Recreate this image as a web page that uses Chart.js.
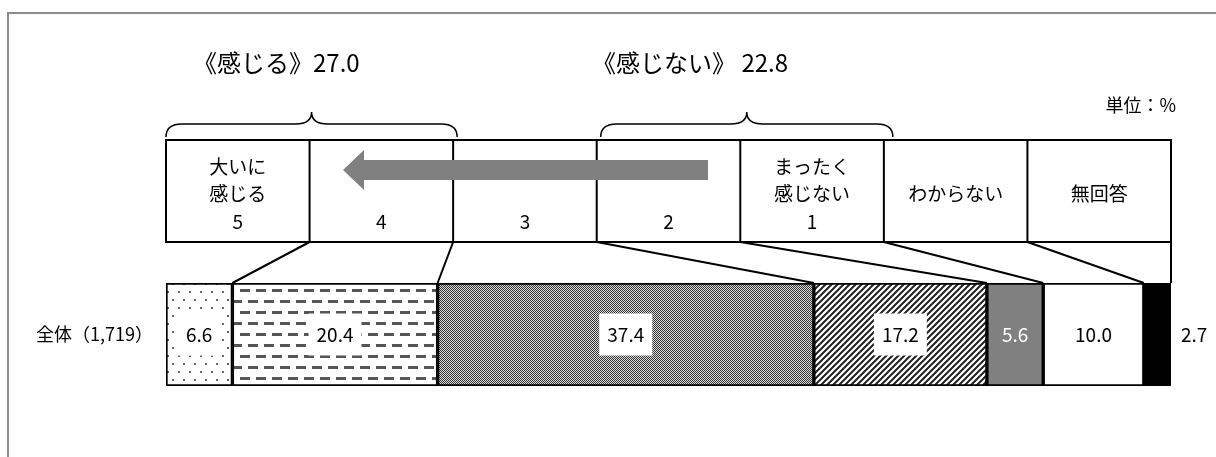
<!DOCTYPE html>
<html>
<head>
<meta charset="utf-8">
<script src="https://cdn.jsdelivr.net/npm/chart.js@4.4.1/dist/chart.umd.min.js"></script>
<style>
  html, body { margin: 0; background: #fff; }
  #wrap { width: 1216px; height: 457px; position: relative; }
</style>
</head>
<body>
<div id="wrap"><canvas id="chart"></canvas></div>
<script>
// data
const categories = ['全体（1,719）'];
const seriesNames = ['5', '4', '3', '2', '1', 'わからない', '無回答'];
const values = [6.6, 20.4, 37.4, 17.2, 5.6, 10.0, 2.7];
const headerLabels = [
  ['大いに', '感じる', '5'],
  ['', '', '4'],
  ['', '', '3'],
  ['', '', '2'],
  ['まったく', '感じない', '1'],
  ['わからない'],
  ['無回答']
];
const groupNames = ['感じる', '感じない'];
const unitLabel = '単位：%';

const FONT = '"Noto Sans CJK JP", "Noto Sans", sans-serif';

// fill patterns for the segments
function makePattern(w, h, draw) {
  const c = document.createElement('canvas');
  c.width = w; c.height = h;
  const g = c.getContext('2d');
  draw(g);
  return g.createPattern(c, 'repeat');
}
const dots = makePattern(11, 16, g => {
  g.fillStyle = '#fff'; g.fillRect(0, 0, 11, 16);
  g.fillStyle = '#666';
  g.fillRect(2, 3, 2, 2);
  g.fillRect(7, 11, 2, 2);
});
const dashes = makePattern(16, 22, g => {
  g.fillStyle = '#fff'; g.fillRect(0, 0, 16, 22);
  g.fillStyle = '#555';
  g.fillRect(0, 3, 10, 3);
  g.fillRect(8, 14, 8, 3);
  g.fillRect(0, 14, 2, 3);
});
const checker = makePattern(2, 2, g => {
  g.fillStyle = '#ddd'; g.fillRect(0, 0, 2, 2);
  g.fillStyle = '#333';
  g.fillRect(0, 0, 1, 1);
  g.fillRect(1, 1, 1, 1);
});
const stripes = makePattern(6, 6, g => {
  g.fillStyle = '#fff'; g.fillRect(0, 0, 6, 6);
  g.strokeStyle = '#222'; g.lineWidth = 2;
  g.beginPath();
  g.moveTo(-1, 7); g.lineTo(7, -1);
  g.moveTo(-4, 4); g.lineTo(4, -4);
  g.moveTo(2, 10); g.lineTo(10, 2);
  g.stroke();
});

const fills = [dots, dashes, checker, stripes, '#808080', '#ffffff', '#000000'];
const labelColors = ['#000', '#000', '#000', '#000', '#fff', '#000', '#000'];
const labelBoxed = [true, true, true, true, false, false, false];

const total = values.reduce((a, b) => a + b, 0);

// value labels on the segments
const labelPlugin = {
  id: 'segLabels',
  afterDatasetsDraw(chart) {
    const ctx = chart.ctx;
    ctx.save();
    ctx.font = '19px ' + FONT;
    ctx.textBaseline = 'middle';
    chart.data.datasets.forEach((ds, i) => {
      const bar = chart.getDatasetMeta(i).data[0];
      const txt = ds.data[0].toFixed(1);
      if (i === chart.data.datasets.length - 1) {
        ctx.textAlign = 'left';
        ctx.fillStyle = '#000';
        ctx.fillText(txt, bar.x + 10, bar.y);
        return;
      }
      const cx = (bar.x + bar.base) / 2;
      const tw = ctx.measureText(txt).width;
      if (labelBoxed[i]) {
        ctx.fillStyle = '#fff';
        ctx.fillRect(cx - tw / 2 - 8, bar.y - 21, tw + 16, 42);
      }
      ctx.textAlign = 'center';
      ctx.fillStyle = labelColors[i];
      ctx.fillText(txt, cx, bar.y);
    });
    ctx.restore();
  }
};

function brace(ctx, x1, x2, yEnd, yMid, yTop) {
  const mx = (x1 + x2) / 2, r = 16;
  ctx.beginPath();
  ctx.moveTo(x1, yEnd);
  ctx.quadraticCurveTo(x1, yMid, x1 + r, yMid);
  ctx.lineTo(mx - r, yMid);
  ctx.quadraticCurveTo(mx, yMid, mx, yTop);
  ctx.quadraticCurveTo(mx, yMid, mx + r, yMid);
  ctx.lineTo(x2 - r, yMid);
  ctx.quadraticCurveTo(x2, yMid, x2, yEnd);
  ctx.stroke();
}

// header scale, braces, arrow, leader lines, frame
const decorPlugin = {
  id: 'decor',
  afterDraw(chart) {
    const ctx = chart.ctx;
    const area = chart.chartArea;
    const xs = chart.scales.x;
    const left = area.left, right = area.right;
    const w = (right - left) / headerLabels.length;
    const hTop = 140, hBot = 242;
    ctx.save();

    // outer frame
    ctx.strokeStyle = '#8c8c8c';
    ctx.lineWidth = 2;
    ctx.beginPath();
    ctx.moveTo(8, 457); ctx.lineTo(8, 13); ctx.lineTo(1216, 13);
    ctx.stroke();

    // group titles
    const pos = values[0] + values[1];
    const neg = values[3] + values[4];
    ctx.fillStyle = '#000';
    ctx.textBaseline = 'middle';
    ctx.textAlign = 'left';
    ctx.font = '24px ' + FONT;
    ctx.fillText('《' + groupNames[0] + '》' + pos.toFixed(1), 193, 63);
    ctx.fillText('《' + groupNames[1] + '》 ' + neg.toFixed(1), 592, 63);

    ctx.font = '18px ' + FONT;
    ctx.textAlign = 'right';
    ctx.fillText(unitLabel, 1176, 105);

    // braces
    ctx.strokeStyle = '#000';
    ctx.lineWidth = 1.5;
    brace(ctx, left, left + 2 * w + 4, 137, 124, 112);
    brace(ctx, left + 3 * w + 4, left + 5 * w + 9, 137, 124, 112);

    // header boxes
    ctx.lineWidth = 2;
    ctx.strokeRect(left, hTop, right - left, hBot - hTop);
    ctx.beginPath();
    for (let i = 1; i < headerLabels.length; i++) {
      ctx.moveTo(left + i * w, hTop);
      ctx.lineTo(left + i * w, hBot);
    }
    ctx.stroke();

    ctx.font = '19px ' + FONT;
    ctx.textAlign = 'center';
    headerLabels.forEach((lines, i) => {
      const cx = left + (i + 0.5) * w;
      if (lines.length === 1) {
        ctx.fillText(lines[0], cx, 194);
      } else {
        ctx.fillText(lines[0], cx, 167);
        ctx.fillText(lines[1], cx, 194);
        ctx.fillText(lines[2], cx, 222);
      }
    });

    // arrow (from 'not felt' toward 'felt')
    ctx.fillStyle = '#808080';
    ctx.beginPath();
    ctx.moveTo(708, 160);
    ctx.lineTo(364, 160);
    ctx.lineTo(364, 150);
    ctx.lineTo(343, 170);
    ctx.lineTo(364, 190);
    ctx.lineTo(364, 180);
    ctx.lineTo(708, 180);
    ctx.closePath();
    ctx.fill();

    // leader lines from header to segment boundaries
    ctx.strokeStyle = '#000';
    ctx.lineWidth = 2;
    ctx.beginPath();
    let cum = 0;
    for (let i = 0; i < values.length; i++) {
      cum += values[i];
      ctx.moveTo(left + (i + 1) * w, hBot);
      ctx.lineTo(xs.getPixelForValue(cum), area.top);
    }
    ctx.stroke();
    ctx.restore();
  }
};

new Chart(document.getElementById('chart'), {
  type: 'bar',
  data: {
    labels: categories,
    datasets: seriesNames.map((name, i) => ({
      label: name,
      data: [values[i]],
      backgroundColor: fills[i],
      borderColor: '#000',
      borderWidth: 2,
      borderSkipped: false,
      barPercentage: 1,
      categoryPercentage: 1
    }))
  },
  options: {
    indexAxis: 'y',
    responsive: true,
    maintainAspectRatio: false,
    animation: false,
    layout: { padding: { top: 283, bottom: 71, left: 0, right: 45 } },
    scales: {
      x: { stacked: true, min: 0, max: total, display: false },
      y: {
        stacked: true,
        grid: { display: false, drawTicks: false },
        border: { display: false },
        ticks: { color: '#000', padding: 13, font: { size: 18, family: FONT } },
        afterFit(scale) { scale.width = 166; }
      }
    },
    plugins: {
      legend: { display: false },
      tooltip: { enabled: false }
    }
  },
  plugins: [labelPlugin, decorPlugin]
});
</script>
</body>
</html>
